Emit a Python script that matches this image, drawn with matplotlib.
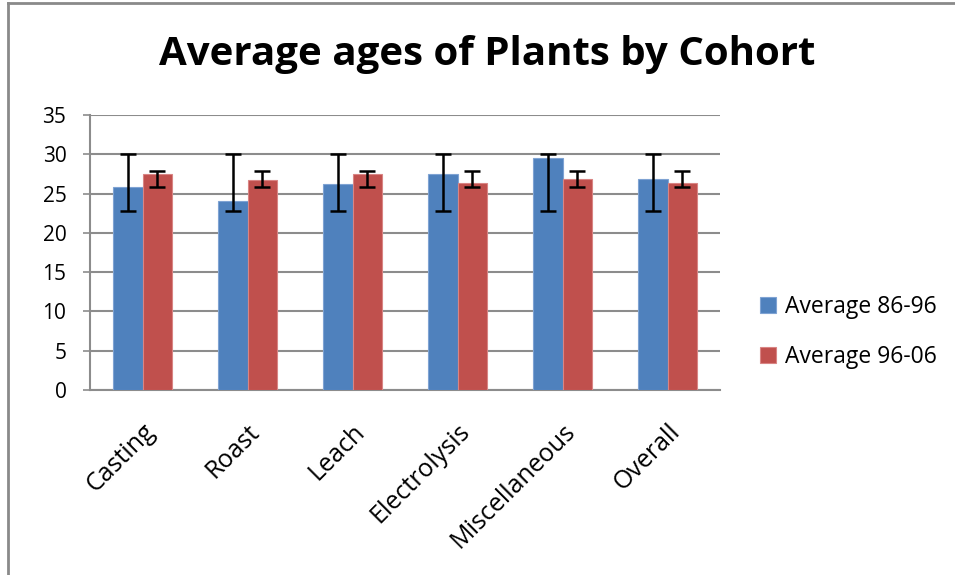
import matplotlib
matplotlib.use("Agg")
import matplotlib.pyplot as plt
import numpy as np
from matplotlib.lines import Line2D

categories = ["Casting", "Roast", "Leach", "Electrolysis", "Miscellaneous", "Overall"]
avg_86_96 = [25.9, 24.1, 26.2, 27.5, 29.5, 26.9]
avg_96_06 = [27.5, 26.7, 27.5, 26.4, 26.9, 26.4]
# error bar extents (lower end, upper end)
err_86_96_low = [22.8, 22.8, 22.8, 22.8, 22.8, 22.8]
err_86_96_high = [30.1, 30.1, 30.1, 30.1, 30.1, 30.1]
err_96_06_low = [25.85, 25.85, 25.85, 25.85, 25.85, 25.85]
err_96_06_high = [27.9, 27.9, 27.9, 27.9, 27.9, 27.9]
series_names = ["Average 86-96", "Average 96-06"]
yticks = [0, 5, 10, 15, 20, 25, 30, 35]

FONT = "Open Sans"
W, H = 955, 575
fig = plt.figure(figsize=(W / 100, H / 100), dpi=100)
ax = fig.add_axes([90 / W, 1 - 390 / H, 630 / W, 275 / H])

x = np.arange(len(categories))
bw = 0.2857
blue = "#4F81BD"
red = "#C0504D"

v1 = np.array(avg_86_96)
v2 = np.array(avg_96_06)
yerr1 = [v1 - np.array(err_86_96_low), np.array(err_86_96_high) - v1]
yerr2 = [v2 - np.array(err_96_06_low), np.array(err_96_06_high) - v2]

ax.bar(x - bw / 2, v1, bw, color=blue, edgecolor="#7FA3D3", linewidth=0.8, zorder=3,
       label=series_names[0])
ax.bar(x + bw / 2, v2, bw, color=red, edgecolor="#D98584", linewidth=0.8, zorder=3,
       label=series_names[1])
ax.errorbar(x - bw / 2, v1, yerr=yerr1, fmt="none", ecolor="black", elinewidth=1.8,
            capsize=5.5, capthick=1.8, zorder=4)
ax.errorbar(x + bw / 2, v2, yerr=yerr2, fmt="none", ecolor="black", elinewidth=1.8,
            capsize=5.5, capthick=1.8, zorder=4)

ax.set_xlim(-0.5, len(categories) - 0.5)
ax.set_ylim(0, 35)
ax.set_yticks(yticks)
ax.set_yticklabels([str(t) for t in yticks], fontsize=15, family=FONT)
ax.yaxis.grid(True, color="#8C8C8C", linewidth=1.5, zorder=0)
ax.set_axisbelow(True)
ax.set_xticks(x)
ax.set_xticklabels(categories, rotation=45, ha="right", rotation_mode="anchor",
                   fontsize=18, family=FONT)
ax.tick_params(axis="x", length=0, pad=21)
ax.tick_params(axis="y", length=5, width=1.2, color="#8C8C8C", pad=12)
for s in ["top", "right"]:
    ax.spines[s].set_visible(False)
for s in ["left", "bottom"]:
    ax.spines[s].set_color("#8C8C8C")
    ax.spines[s].set_linewidth(1.5)

fig.text(487 / W, 1 - 55 / H, "Average ages of Plants by Cohort", ha="center", va="center",
         fontsize=29, fontweight="bold", family=FONT)

leg = ax.legend(loc="center left", bbox_to_anchor=(760 / W, 1 - 332 / H),
                bbox_transform=fig.transFigure, frameon=False, borderaxespad=0,
                borderpad=0, prop={"family": FONT, "size": 16.5}, handlelength=0.7,
                handleheight=0.7, handletextpad=0.4, labelspacing=1.15)

# chart area border (only top and left visible)
fig.add_artist(Line2D([8 / W, 8 / W], [0, 1 - 3 / H], transform=fig.transFigure,
                      color="#8A8A8A", linewidth=2))
fig.add_artist(Line2D([8 / W, 1], [1 - 3 / H, 1 - 3 / H], transform=fig.transFigure,
                      color="#8A8A8A", linewidth=2))

fig.savefig("out.png", dpi=100)
